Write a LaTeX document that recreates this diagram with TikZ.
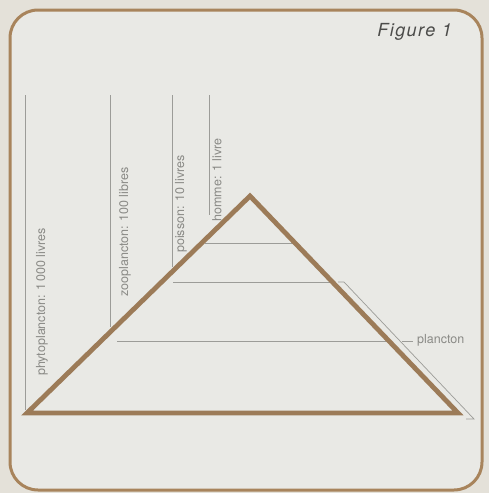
\documentclass[tikz,border=0pt]{standalone}
\usepackage{fontspec}
\setmainfont{TeX Gyre Heros}
\newfontfamily\titlefont{TeX Gyre Heros}[LetterSpace=8]
\begin{document}
\begin{tikzpicture}[x=1pt,y=-1pt,
  frame/.style={draw=framebrown,line width=3pt,rounded corners=28pt,fill=panel},
  pyramid/.style={draw=pyrbrown,line width=4.8pt,line join=miter},
  guide/.style={draw=guidegrey,line width=0.7pt},
  lbl/.style={text=labelgrey,font=\fontsize{12.5}{14}\selectfont,inner sep=0pt},
  title/.style={text=titlegrey,font=\titlefont\fontsize{18}{20}\selectfont\itshape,inner sep=0pt}]
\definecolor{paper}{HTML}{E4E1D9}
\definecolor{panel}{HTML}{E9E9E5}
\definecolor{framebrown}{HTML}{A8845C}
\definecolor{pyrbrown}{HTML}{9C7B58}
\definecolor{guidegrey}{HTML}{9C9C98}
\definecolor{labelgrey}{HTML}{8A8A86}
\definecolor{titlegrey}{HTML}{4C4C4A}
\useasboundingbox (0,0) rectangle (489,493);
\fill[paper] (0,0) rectangle (489,493);
\path[frame] (10,10) rectangle (482,490);
\node[title,anchor=east] (fig) at (452,32) {Figure 1};
% guide coordinates
\coordinate (v1t) at (25,95);  \coordinate (v1b) at (25,410);
\coordinate (v2t) at (110,95); \coordinate (v2b) at (110,327);
\coordinate (v3t) at (172,95); \coordinate (v3b) at (172,267);
\coordinate (v4t) at (209,95); \coordinate (v4b) at (209,215);
\coordinate (h1a) at (205,243); \coordinate (h1b) at (293,243);
\coordinate (h2a) at (173,282); \coordinate (h2b) at (332,282);
\coordinate (h3a) at (117,341); \coordinate (h3b) at (388,341);
\coordinate (b0) at (338,282); \coordinate (b1) at (344,282);
\coordinate (b2) at (474,419); \coordinate (b3) at (466,419);
\coordinate (t0) at (402,341); \coordinate (t1) at (413,341);
\draw[guide] (v1t) -- (v1b);
\draw[guide] (v2t) -- (v2b);
\draw[guide] (v3t) -- (v3b);
\draw[guide] (v4t) -- (v4b);
\draw[guide] (h1a) -- (h1b);
\draw[guide] (h2a) -- (h2b);
\draw[guide] (h3a) -- (h3b);
\draw[guide] (b0) -- (b1) -- (b2) -- (b3);
\draw[guide] (t0) -- (t1);
% pyramid
\coordinate (pl) at (27,413);
\coordinate (pt) at (250,196);
\coordinate (pr) at (458,413);
\draw[pyramid] (pl) -- (pt) -- (pr) -- cycle;
% labels
\node[lbl,rotate=90] (phy) at (42,302) {phytoplancton: 1\,000 livres};
\node[lbl,rotate=90] (zoo) at (125,232) {zooplancton: 100 libres};
\node[lbl,rotate=90] (poi) at (181,204) {poisson: 10 livres};
\node[lbl,rotate=90] (hom) at (217,180) {homme: 1 livre};
\node[lbl,anchor=west] (pla) at (417,340) {plancton};
\end{tikzpicture}
\end{document}
